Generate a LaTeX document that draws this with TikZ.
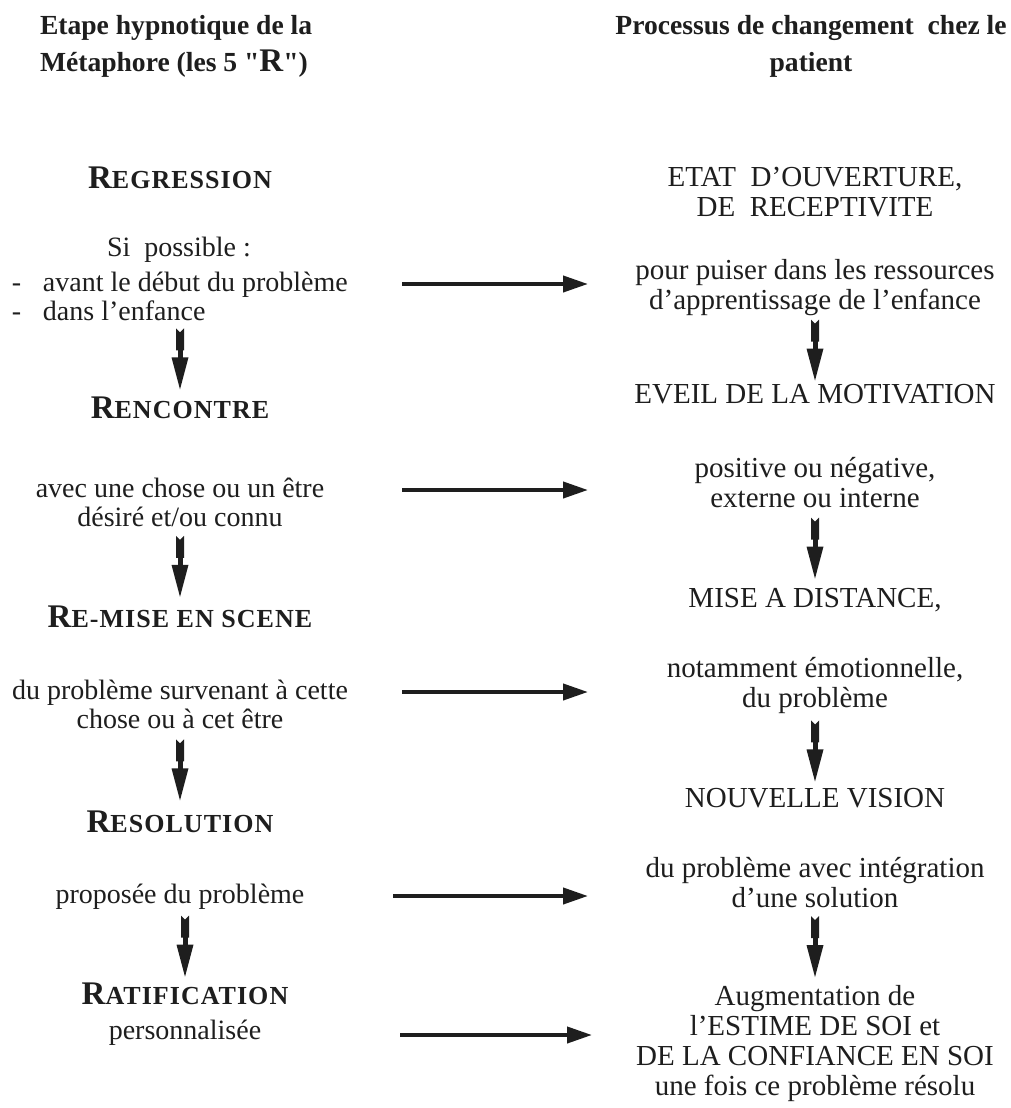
\documentclass[tikz,border=0pt]{standalone}
\usepackage{fontspec}
\setmainfont{Liberation Serif}
\usetikzlibrary{arrows.meta,calc}
\definecolor{ink}{RGB}{30,30,30}
\newcommand\scap[2]{{\fontsize{33}{33}\selectfont #1}{\fontsize{26}{26}\selectfont\addfontfeature{LetterSpace=4}#2}}
\tikzset{
  txt/.style={inner sep=0pt, outer sep=0pt, align=center, text=ink, font=\fontsize{28}{29}\selectfont},
  rtxt/.style={txt, font=\fontsize{29}{30}\selectfont},
  hdr/.style={txt, font=\bfseries\fontsize{27.6}{36}\selectfont},
  stage/.style={txt, font=\bfseries},
  harrow/.style={draw=ink, line width=4pt, -{Triangle[length=25pt,width=16pt]}},
  vdart/.pic={
    \fill[ink] (-4,-30) -- (0,-26) -- (4,-30) -- (4,-8) -- (-4,-8) -- cycle;
    \fill[ink] (-2.5,-9) rectangle (2.5,0);
    \fill[ink] (-8.5,-1) -- (8.5,-1) -- (0,31) -- cycle;
  }
}
\begin{document}
\begin{tikzpicture}[x=1pt,y=-1pt]
\useasboundingbox[fill=white] (0,0) rectangle (1011,1108);
% headers (base = last line)
\node[hdr, anchor=base west, align=left] (hl) at (40,71) {Etape hypnotique de la\\Métaphore (les 5 \textquotedbl{\fontsize{33}{33}\selectfont R}\textquotedbl)};
\node[hdr, anchor=base] (hr) at (811,71) {Processus de changement\ \ chez le\\patient};
% left column
\node[stage, anchor=base] (l1) at (180,188) {\scap{R}{EGRESSION}};
\node[txt, anchor=base west] (l1a) at (107,256) {Si\ \ possible :};
\node[txt, anchor=base west, align=left] (l1b) at (12,320) {\makebox[31pt][l]{-}avant le début du problème\\\makebox[31pt][l]{-}dans l'enfance};
\node[stage, anchor=base] (l2) at (180,418) {\scap{R}{ENCONTRE}};
\node[txt, anchor=base] (l2a) at (180,526) {avec une chose ou un être\\désiré et/ou connu};
\node[stage, anchor=base] (l3) at (180,627) {\scap{R}{E-MISE EN SCENE}};
\node[txt, anchor=base] (l3a) at (180,728) {du problème survenant à cette\\chose ou à cet être};
\node[stage, anchor=base] (l4) at (180,832) {\scap{R}{ESOLUTION}};
\node[txt, anchor=base] (l4a) at (180,903) {proposée du problème};
\node[stage, anchor=base] (l5) at (185,1004) {\scap{R}{ATIFICATION}};
\node[txt, anchor=base] (l5a) at (185,1039) {personnalisée};
% right column
\node[rtxt, anchor=base] (r1) at (815,216) {ETAT\ \ D'OUVERTURE,\\DE\ \ RECEPTIVITE};
\node[rtxt, anchor=base] (r2) at (815,309) {pour puiser dans les ressources\\d'apprentissage de l'enfance};
\node[rtxt, anchor=base] (r3) at (815,403) {EVEIL DE LA MOTIVATION};
\node[rtxt, anchor=base] (r4) at (815,507) {positive ou négative,\\externe ou interne};
\node[rtxt, anchor=base] (r5) at (815,607) {MISE A DISTANCE,};
\node[rtxt, anchor=base] (r6) at (815,707) {notamment émotionnelle,\\du problème};
\node[rtxt, anchor=base] (r7) at (815,807) {NOUVELLE VISION};
\node[rtxt, anchor=base] (r8) at (815,907) {du problème avec intégration\\d'une solution};
\node[rtxt, anchor=base] (r9) at (815,1095) {Augmentation de\\l'ESTIME DE SOI et\\DE LA CONFIANCE EN SOI\\une fois ce problème résolu};
% vertical arrows
\pic at ($(l1b.south -| l2.north)!0.5!(l2.north)$) {vdart};
\pic at ($(l2a.south)!0.5!(l3.north)$) {vdart};
\pic at ($(l3a.south)!0.5!(l4.north)$) {vdart};
\pic at ($(l4a.south -| l5.north)!0.5!(l5.north)$) {vdart};
\pic at ($(r2.south)!0.5!(r3.north)$) {vdart};
\pic at ($(r4.south)!0.5!(r5.north)$) {vdart};
\pic at ($(r6.south)!0.5!(r7.north)$) {vdart};
\pic at ($(r8.south)!0.5!(r9.north)$) {vdart};
% horizontal arrows
\coordinate (h1s) at (402,284); \coordinate (h1e) at (588,284);
\coordinate (h2s) at (402,490); \coordinate (h2e) at (588,490);
\coordinate (h3s) at (402,692); \coordinate (h3e) at (588,692);
\coordinate (h4s) at (393,896); \coordinate (h4e) at (588,896);
\coordinate (h5s) at (400,1035); \coordinate (h5e) at (592,1035);
\draw[harrow] (h1s) -- (h1e);
\draw[harrow] (h2s) -- (h2e);
\draw[harrow] (h3s) -- (h3e);
\draw[harrow] (h4s) -- (h4e);
\draw[harrow] (h5s) -- (h5e);
\end{tikzpicture}
\end{document}
